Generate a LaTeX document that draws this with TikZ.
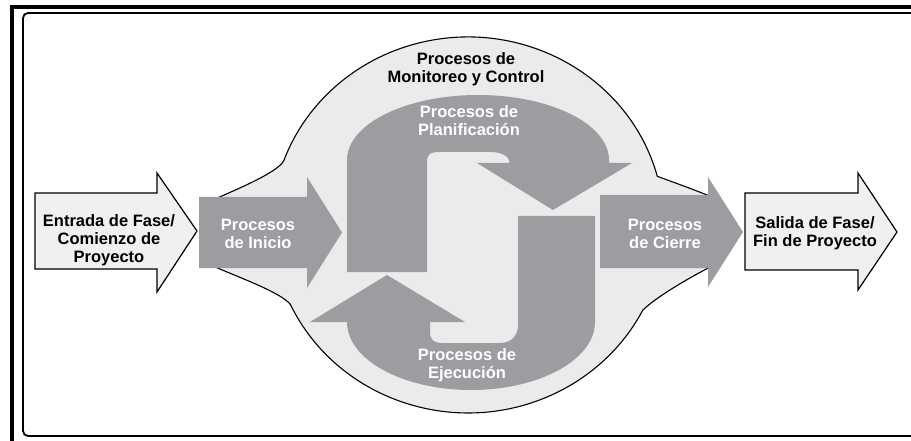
\documentclass[tikz,border=0pt]{standalone}
\usepackage{fontspec}
\setmainfont{Liberation Sans}
\begin{document}
\begin{tikzpicture}[x=1pt,y=-1pt,
  procgray/.style={fill=arrowgray,draw=none},
  lightarrow/.style={fill=lightfill,draw=black,line width=1.2pt,line join=miter},
  blobstyle/.style={fill=blobfill,draw=black,line width=1.1pt},
  lbl/.style={align=center,font=\fontsize{16.5}{18}\selectfont\bfseries,inner sep=0pt},
  wlbl/.style={lbl,text=white},
  blbl/.style={lbl,text=black}]
\definecolor{arrowgray}{HTML}{9B9DA0}
\definecolor{blobfill}{HTML}{EBEBEB}
\definecolor{lightfill}{HTML}{F0F0F0}
\useasboundingbox (0,0) rectangle (911,441);
\fill[white] (0,0) rectangle (911,441);
% frame
\draw[line width=4pt] (12,441) -- (12,7.5) -- (911,7.5);
\draw[line width=1.8pt,rounded corners=5pt] (915,13) -- (23,13) -- (23,436) -- (915,436);
% blob
\draw[blobstyle] (213,266) .. controls (240,278) and (280,292) .. (290.4,304.4)
  arc[start angle=155,end angle=27,x radius=196,y radius=188]
  .. controls (655,298) and (685,280) .. (712,266)
  -- (712,197)
  .. controls (695,190) and (670,181) .. (657.3,176.3)
  arc[start angle=-15,end angle=-160,x radius=196,y radius=188]
  .. controls (278,172) and (240,188) .. (215,199) -- cycle;
% Inicio
\fill[procgray] (199,197) -- (307,197) -- (307,177) -- (342,232.5) -- (307,288) -- (307,268) -- (199,268) -- cycle;
% Cierre
\fill[procgray] (600,195) -- (708,195) -- (708,177) -- (743,232) -- (708,287) -- (708,268) -- (600,268) -- cycle;
% Planificacion
\fill[procgray] (347,272) -- (347,160)
  arc[start angle=180,end angle=360,x radius=131,y radius=65]
  -- (609,163) -- (632,163) -- (553,210) -- (477,163) -- (510,163) -- (510,165)
  .. controls (510,158) and (505,152) .. (490,152) -- (440,152)
  .. controls (430,152) and (427,154) .. (427,162) -- (427,272) -- cycle;
% Ejecucion
\fill[procgray] (595,216) -- (595,322)
  arc[start angle=0,end angle=180,x radius=124,y radius=68]
  -- (310,322) -- (387,275) -- (465,322) -- (430,322) -- (430,332)
  .. controls (430,340) and (434,343) .. (442,343) -- (500,343)
  .. controls (512,343) and (518,335) .. (518,325) -- (518,216) -- cycle;
% Entrada / Salida
\draw[lightarrow] (35,193) -- (157,193) -- (157,173) -- (197,231) -- (157,292) -- (157,269) -- (35,269) -- cycle;
\draw[lightarrow] (745,193) -- (858,193) -- (858,173) -- (897,232) -- (858,290) -- (858,270) -- (745,270) -- cycle;
% labels
\node[blbl] (mc) at (466,69) {Procesos de\\Monitoreo y Control};
\node[wlbl] (pl) at (469,121) {Procesos de\\Planificación};
\node[wlbl] (in) at (258,233.5) {Procesos\\de Inicio};
\node[wlbl] (ci) at (665,233.5) {Procesos\\de Cierre};
\node[wlbl] (ej) at (467,365.5) {Procesos de\\Ejecución};
\node[blbl] (en) at (109,240) {Entrada de Fase/\\Comienzo de\\Proyecto};
\node[blbl] (sa) at (815,233.5) {Salida de Fase/\\Fin de Proyecto};
\end{tikzpicture}
\end{document}
